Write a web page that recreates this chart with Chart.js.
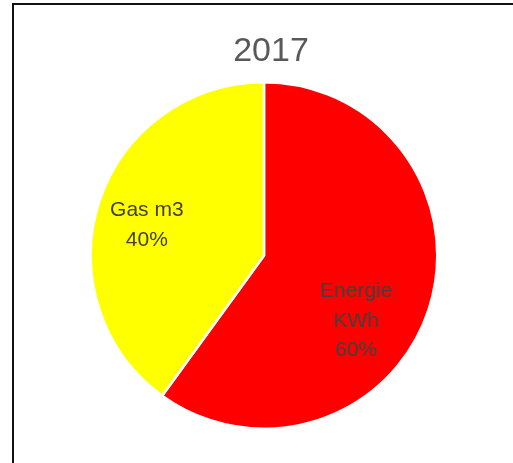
<!DOCTYPE html>
<html>
<head>
<meta charset="utf-8">
<script src="https://cdn.jsdelivr.net/npm/chart.js@4/dist/chart.umd.min.js"></script>
<style>
  html, body { margin: 0; padding: 0; background: #fff; }
  #wrap { position: relative; width: 513px; height: 463px; overflow: hidden; }
  #frame { position: absolute; left: 12px; top: 3px; width: 540px; height: 500px; border: 2px solid #111; box-sizing: border-box; pointer-events: none; }
  canvas { position: absolute; left: 0; top: 0; }
</style>
</head>
<body>
<div id="wrap">
  <div id="frame"></div>
  <canvas id="c" width="513" height="463"></canvas>
</div>
<script>
const chartTitle = "2017";
const categories = [["Energie", "KWh"], ["Gas m3"]];
const values = [60, 40];
const colors = ["#FF0000", "#FFFF00"];

// label placement relative to each slice: angle shift (deg) and radius fraction
const labelAngleShift = [17, -3];
const labelRadiusFrac = [0.65, 0.70];

const total = values.reduce((a, b) => a + b, 0);

const titlePlugin = {
  id: 'customTitle',
  afterDraw(chart) {
    const ctx = chart.ctx;
    ctx.save();
    ctx.font = '34px "Liberation Sans", Arial, sans-serif';
    ctx.fillStyle = '#595959';
    ctx.textAlign = 'center';
    ctx.textBaseline = 'alphabetic';
    ctx.fillText(chartTitle, 271, 61);
    ctx.restore();
  }
};

const labelPlugin = {
  id: 'sliceLabels',
  afterDatasetsDraw(chart) {
    const ctx = chart.ctx;
    const meta = chart.getDatasetMeta(0);
    ctx.save();
    ctx.font = '21px "Liberation Sans", Arial, sans-serif';
    ctx.fillStyle = '#404040';
    ctx.textAlign = 'center';
    ctx.textBaseline = 'middle';
    meta.data.forEach((arc, i) => {
      const p = arc.getProps(['x', 'y', 'startAngle', 'endAngle', 'outerRadius'], true);
      const mid = (p.startAngle + p.endAngle) / 2 + labelAngleShift[i] * Math.PI / 180;
      const r = p.outerRadius * labelRadiusFrac[i];
      const cx = p.x + Math.cos(mid) * r;
      const cy = p.y + Math.sin(mid) * r;
      const pct = Math.round(values[i] / total * 100) + '%';
      const lines = [].concat(categories[i], pct);
      const lh = 29.5;
      const y0 = cy - (lines.length - 1) * lh / 2;
      lines.forEach((t, k) => ctx.fillText(t, cx, y0 + k * lh + 1));
    });
    ctx.restore();
  }
};

new Chart(document.getElementById('c'), {
  type: 'pie',
  data: {
    labels: categories.map(c => c.join(' ')),
    datasets: [{
      data: values,
      backgroundColor: colors,
      borderColor: '#ffffff',
      borderWidth: 2.5,
      hoverOffset: 0
    }]
  },
  options: {
    responsive: false,
    animation: false,
    layout: { padding: { left: 89, right: 74, top: 81, bottom: 33 } },
    plugins: {
      legend: { display: false },
      title: { display: false },
      tooltip: { enabled: false }
    }
  },
  plugins: [titlePlugin, labelPlugin]
});
</script>
</body>
</html>
